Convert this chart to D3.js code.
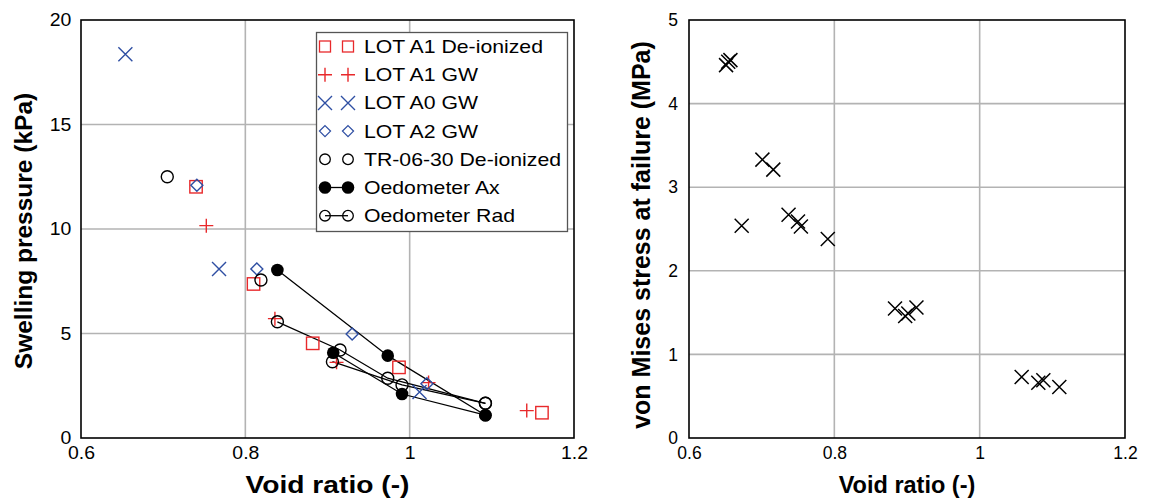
<!DOCTYPE html>
<html><head><meta charset="utf-8">
<script src="https://cdn.jsdelivr.net/npm/d3@7"></script>
<style>body{margin:0;background:#fff} text{font-family:"Liberation Sans",Arial,sans-serif;fill:#000}</style>
</head><body><svg id="c" width="1151" height="498"></svg>
<script>
// ---------- data ----------
const xTicks = [0.6, 0.8, 1, 1.2];
const swellTicks = [0, 5, 10, 15, 20];
const vmTicks = [0, 1, 2, 3, 4, 5];

const lotA1DeionE = [0.740, 0.810, 0.882, 0.987, 1.161];
const lotA1DeionP = [12.02, 7.37, 4.53, 3.38, 1.21];
const lotA1GwE = [0.7525, 0.836, 0.911, 1.023, 1.1425];
const lotA1GwP = [10.16, 5.71, 3.62, 2.65, 1.31];
const lotA0GwE = [0.654, 0.768, 1.012];
const lotA0GwP = [18.36, 8.09, 2.2];
const lotA2GwE = [0.741, 0.814, 0.930, 1.021];
const lotA2GwP = [12.09, 8.09, 4.98, 2.6];
const tr0630E = [0.705, 0.819];
const tr0630P = [12.5, 7.56];
// oedometer tests (each inner array is one connected test)
const oedAxE = [[0.839, 0.9733, 1.0922], [0.907, 0.9907, 1.0922]];
const oedAxP = [[8.04, 3.94, 1.09], [4.08, 2.105, 1.09]];
const oedRadE = [[0.839, 0.9153, 0.9733, 1.0922], [0.906, 0.9907, 1.0922]];
const oedRadP = [[5.56, 4.21, 2.86, 1.66], [3.65, 2.54, 1.66]];

const legendNames = ["LOT A1 De-ionized", "LOT A1 GW", "LOT A0 GW", "LOT A2 GW",
  "TR-06-30 De-ionized", "Oedometer Ax", "Oedometer Rad"];

const vmE = [0.651, 0.654, 0.657, 0.701, 0.716, 0.6725, 0.737, 0.750, 0.754, 0.791,
  0.8835, 0.8975, 0.9018, 0.913, 1.0578, 1.0807, 1.0876, 1.1096];
const vmS = [4.46, 4.50, 4.52, 3.33, 3.21, 2.54, 2.67, 2.59, 2.53, 2.38,
  1.55, 1.46, 1.49, 1.56, 0.73, 0.66, 0.69, 0.61];

// ---------- styles ----------
const RED = "#e8292b", BLUE = "#2f4fa3", GRID = "#b3b3b3";
const svg = d3.select("#c");

function marker(g, type, cx, cy) {
  const sw = 1.4;
  if (type === "square") {
    g.append("rect").attr("x", cx - 6.2).attr("y", cy - 6.2).attr("width", 12.4).attr("height", 12.4)
      .attr("fill", "none").attr("stroke", RED).attr("stroke-width", sw);
  } else if (type === "plus") {
    g.append("path").attr("d", `M${cx - 7},${cy}H${cx + 7}M${cx},${cy - 7}V${cy + 7}`)
      .attr("stroke", RED).attr("stroke-width", sw).attr("fill", "none");
  } else if (type === "cross") {
    g.append("path").attr("d", `M${cx - 7},${cy - 7}L${cx + 7},${cy + 7}M${cx - 7},${cy + 7}L${cx + 7},${cy - 7}`)
      .attr("stroke", BLUE).attr("stroke-width", sw).attr("fill", "none");
  } else if (type === "diamond") {
    g.append("path").attr("d", `M${cx},${cy - 6}L${cx + 6},${cy}L${cx},${cy + 6}L${cx - 6},${cy}Z`)
      .attr("stroke", BLUE).attr("stroke-width", sw).attr("fill", "none");
  } else if (type === "circle") {
    g.append("circle").attr("cx", cx).attr("cy", cy).attr("r", 6)
      .attr("stroke", "#000").attr("stroke-width", sw).attr("fill", "none");
  } else if (type === "filled") {
    g.append("circle").attr("cx", cx).attr("cy", cy).attr("r", 6.3).attr("fill", "#000");
  } else if (type === "xblack") {
    g.append("path").attr("d", `M${cx - 7},${cy - 7}L${cx + 7},${cy + 7}M${cx - 7},${cy + 7}L${cx + 7},${cy - 7}`)
      .attr("stroke", "#000").attr("stroke-width", 1.5).attr("fill", "none");
  }
}

function panel(x, y, yTickVals, opts) {
  const [x0, x1] = x.range(), [y0, y1] = y.range();
  const g = svg.append("g");
  // grid
  g.selectAll(".gx").data(xTicks.filter(d => d > 0.6 && d < 1.2)).join("line")
    .attr("x1", d => x(d)).attr("x2", d => x(d)).attr("y1", y0).attr("y2", y1)
    .attr("stroke", GRID).attr("stroke-width", 1.6);
  g.selectAll(".gy").data(yTickVals.slice(1, -1)).join("line")
    .attr("y1", d => y(d)).attr("y2", d => y(d)).attr("x1", x0).attr("x2", x1)
    .attr("stroke", GRID).attr("stroke-width", 1.6);
  // axes labels
  const ax = g.append("g").attr("transform", `translate(0,${y0})`)
    .call(d3.axisBottom(x).tickValues(xTicks).tickSize(0).tickPadding(opts.xPad).tickFormat(d => String(d)));
  ax.select(".domain").remove();
  ax.selectAll("text").attr("font-size", opts.tickFs).attr("font-family", "Liberation Sans, Arial, sans-serif")
    .attr("fill", "#000").attr("transform", `scale(${opts.sx},1)`);
  const ay = g.append("g").attr("transform", `translate(${x0},0)`)
    .call(d3.axisLeft(y).tickValues(yTickVals).tickSize(0).tickPadding(opts.yPad).tickFormat(d => String(d)));
  ay.select(".domain").remove();
  ay.selectAll("text").attr("font-size", opts.tickFs).attr("font-family", "Liberation Sans, Arial, sans-serif")
    .attr("fill", "#000").attr("transform", `scale(${opts.sx},1)`);
  // frame
  g.append("rect").attr("x", x0).attr("y", y1).attr("width", x1 - x0).attr("height", y0 - y1)
    .attr("fill", "none").attr("stroke", "#000").attr("stroke-width", 1.6);
  // titles
  g.append("text").attr("transform", `translate(${(x0 + x1) / 2},493) scale(${opts.titleSx},1)`)
    .attr("text-anchor", "middle").attr("font-weight", "bold").attr("font-size", 23.5).text("Void ratio (-)");
  g.append("text").attr("transform", `translate(${opts.yTitleX},${opts.yTitleY}) rotate(-90)`)
    .attr("text-anchor", "middle").attr("font-weight", "bold").attr("font-size", opts.yTitleFs).text(opts.yTitle);
  return g;
}

// ---------- left chart ----------
const xL = d3.scaleLinear().domain([0.6, 1.2]).range([81, 574]);
const yL = d3.scaleLinear().domain([0, 20]).range([438, 20]);
panel(xL, yL, swellTicks, { xPad: 8, yPad: 9, tickFs: 18, sx: 1.08, titleSx: 1.2, yTitleX: 32, yTitleY: 231, yTitleFs: 24.5, yTitle: "Swelling pressure (kPa)" });

const gL = svg.append("g");
const line = d3.line();
oedAxE.forEach((es, i) => gL.append("path")
  .attr("d", line(es.map((e, j) => [xL(e), yL(oedAxP[i][j])]))).attr("fill", "none").attr("stroke", "#000").attr("stroke-width", 1.3));
oedRadE.forEach((es, i) => gL.append("path")
  .attr("d", line(es.map((e, j) => [xL(e), yL(oedRadP[i][j])]))).attr("fill", "none").attr("stroke", "#000").attr("stroke-width", 1.3));
lotA1DeionE.forEach((e, i) => marker(gL, "square", xL(e), yL(lotA1DeionP[i])));
lotA1GwE.forEach((e, i) => marker(gL, "plus", xL(e), yL(lotA1GwP[i])));
lotA0GwE.forEach((e, i) => marker(gL, "cross", xL(e), yL(lotA0GwP[i])));
lotA2GwE.forEach((e, i) => marker(gL, "diamond", xL(e), yL(lotA2GwP[i])));
tr0630E.forEach((e, i) => marker(gL, "circle", xL(e), yL(tr0630P[i])));
oedRadE.forEach((es, i) => es.forEach((e, j) => marker(gL, "circle", xL(e), yL(oedRadP[i][j]))));
oedAxE.forEach((es, i) => es.forEach((e, j) => marker(gL, "filled", xL(e), yL(oedAxP[i][j]))));

// legend
const lg = svg.append("g");
lg.append("rect").attr("x", 316.5).attr("y", 32.5).attr("width", 251).attr("height", 199)
  .attr("fill", "#fff").attr("stroke", "#555").attr("stroke-width", 1.3);
const legTypes = ["square", "plus", "cross", "diamond", "circle", "filled", "circle"];
legendNames.forEach((name, i) => {
  const cy = 46.5 + i * 28.2;
  if (i >= 5) lg.append("line").attr("x1", 325).attr("x2", 348).attr("y1", cy).attr("y2", cy)
    .attr("stroke", "#000").attr("stroke-width", 1.3);
  [325, 348].forEach(cx => {
    if (legTypes[i] === "square") {
      lg.append("rect").attr("x", cx - 5.5).attr("y", cy - 5.5).attr("width", 11).attr("height", 11)
        .attr("fill", "none").attr("stroke", RED).attr("stroke-width", 1.3);
    } else if (legTypes[i] === "circle") {
      lg.append("circle").attr("cx", cx).attr("cy", cy).attr("r", 5.3)
        .attr("fill", "none").attr("stroke", "#000").attr("stroke-width", 1.3);
    } else if (legTypes[i] === "diamond") {
      lg.append("path").attr("d", `M${cx},${cy - 5.5}L${cx + 5.5},${cy}L${cx},${cy + 5.5}L${cx - 5.5},${cy}Z`)
        .attr("stroke", BLUE).attr("stroke-width", 1.3).attr("fill", "none");
    } else marker(lg, legTypes[i], cx, cy);
  });
  lg.append("text").attr("transform", `translate(364,${cy + 6.5}) scale(1.18,1)`)
    .attr("font-size", 18).text(name);
});

// ---------- right chart ----------
const xR = d3.scaleLinear().domain([0.6, 1.2]).range([689, 1125]);
const yR = d3.scaleLinear().domain([0, 5]).range([438, 20]);
panel(xR, yR, vmTicks, { xPad: 8.5, yPad: 11, tickFs: 17.5, sx: 1, titleSx: 1, yTitleX: 650, yTitleY: 235, yTitleFs: 25, yTitle: "von Mises stress at failure (MPa)" });
const gR = svg.append("g");
vmE.forEach((e, i) => marker(gR, "xblack", xR(e), yR(vmS[i])));
</script></body></html>
